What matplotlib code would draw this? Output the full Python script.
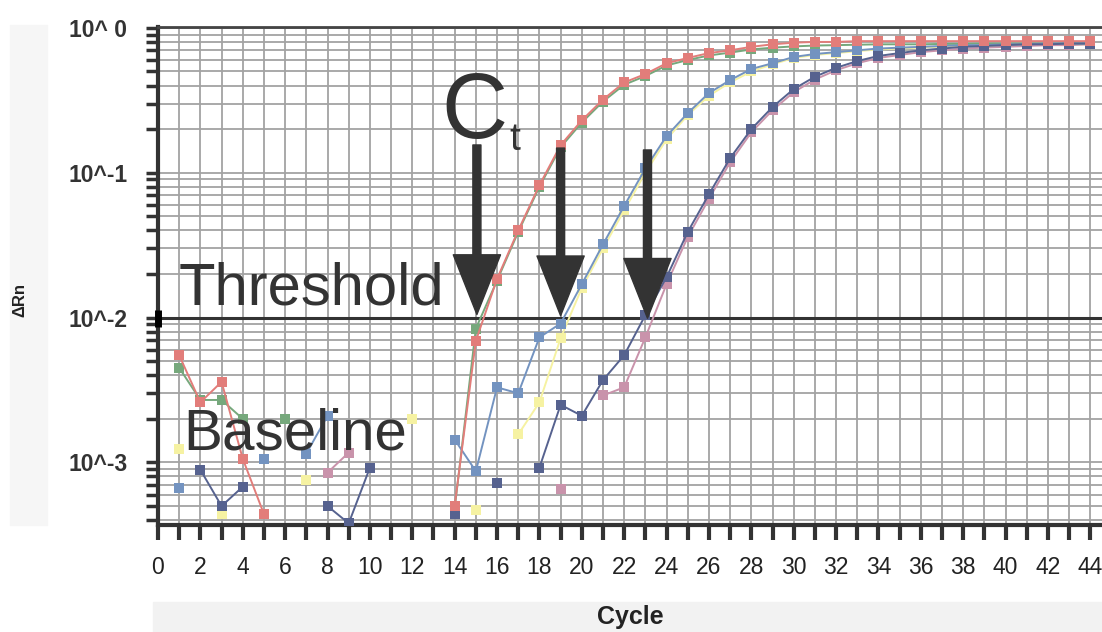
import numpy as np
import matplotlib.pyplot as plt
from matplotlib.patches import Rectangle

nan = np.nan
cycles = np.arange(1, 45)

# delta Rn per cycle (nan = no point drawn)
red = [0.0055, 0.0026, 0.0036, 0.00106, 0.00044, nan, nan, nan, nan, nan,
       nan, nan, nan, 0.0005, 0.0069, 0.0185, 0.040, 0.082, 0.155, 0.23,
       0.32, 0.42, 0.48, 0.57, 0.62, 0.67, 0.70, 0.74, 0.77, 0.79,
       0.80, 0.80, 0.81, 0.81, 0.81, 0.81, 0.81, 0.81, 0.81, 0.81,
       0.81, 0.81, 0.81, 0.81]
green = [0.0045, 0.0027, 0.0027, 0.0020, nan, 0.0020, nan, nan, nan, nan,
         nan, nan, nan, 0.00048, 0.0084, 0.018, 0.039, 0.080, 0.150, 0.222,
         0.31, 0.405, 0.465, 0.55, 0.60, 0.645, 0.675, 0.71, 0.73, 0.745,
         0.755, 0.76, 0.765, 0.77, 0.77, 0.77, 0.775, 0.775, 0.78, 0.78,
         0.78, 0.78, 0.78, 0.78]
blue = [0.00067, nan, nan, nan, 0.00105, nan, 0.00115, 0.0021, nan, nan,
        nan, nan, nan, 0.00144, 0.00087, 0.0033, 0.0030, 0.0073, 0.0091, 0.017,
        0.032, 0.059, 0.107, 0.179, 0.258, 0.355, 0.436, 0.52, 0.57, 0.63,
        0.66, 0.68, 0.70, 0.72, 0.73, 0.74, 0.75, 0.76, 0.76, 0.77,
        0.77, 0.78, 0.78, 0.78]
slate = [nan, 0.00089, 0.0005, 0.00068, nan, nan, nan, 0.0005, 0.00038, 0.00092,
         nan, nan, nan, 0.00044, nan, 0.00072, nan, 0.00092, 0.0025, 0.0021,
         0.0037, 0.0055, 0.0104, 0.019, 0.039, 0.071, 0.126, 0.20, 0.284, 0.378,
         0.46, 0.53, 0.59, 0.64, 0.67, 0.70, 0.72, 0.74, 0.75, 0.76,
         0.77, 0.77, 0.78, 0.78]
yellow = [0.00123, nan, 0.00044, nan, nan, nan, 0.00076, nan, nan, nan,
          nan, 0.0020, nan, nan, 0.00047, nan, 0.00156, 0.0026, 0.0072, 0.016,
          0.030, 0.055, 0.10, 0.17, 0.25, 0.34, 0.42, 0.50, 0.56, 0.62,
          0.65, 0.67, 0.69, 0.71, 0.72, 0.73, 0.74, 0.75, 0.75, 0.76,
          0.76, 0.77, 0.77, 0.77]
pink = [nan, nan, nan, nan, nan, nan, nan, 0.00085, 0.00117, nan,
        nan, nan, nan, nan, nan, nan, nan, nan, 0.00066, nan,
        0.0029, 0.0033, 0.0073, 0.017, 0.036, 0.066, 0.118, 0.19, 0.27, 0.36,
        0.44, 0.51, 0.57, 0.62, 0.65, 0.68, 0.70, 0.72, 0.73, 0.74,
        0.75, 0.76, 0.76, 0.77]

series = [
    (yellow, '#f6f2a2'),
    (pink, '#c993ab'),
    (green, '#76a87c'),
    (blue, '#7393c0'),
    (slate, '#56628f'),
    (red, '#e27d7a'),
]

threshold = 0.01
ct_cycles = [15.05, 19.0, 23.1]
ytick_vals = [1, 0.1, 0.01, 0.001]
ytick_labels = ['10^ 0', '10^-1', '10^-2', '10^-3']

fig = plt.figure(figsize=(11.02, 6.32), dpi=100)
fig.patches.append(Rectangle((10 / 1102, 1 - 525 / 632), 37 / 1102, 500 / 632,
                             transform=fig.transFigure, color='#f6f6f6', zorder=0))
fig.patches.append(Rectangle((153 / 1102, 0), 949 / 1102, 30 / 632,
                             transform=fig.transFigure, color='#f2f2f2', zorder=0))

ax = fig.add_axes([158 / 1102, 107 / 632, 944 / 1102, 498 / 632])
ax.set_facecolor('none')
ax.set_yscale('log')
ax.set_xlim(0, 44.55)
ax.set_ylim(3.7e-4, 1.014)

for vals, col in series:
    ax.plot(cycles, vals, color=col, lw=1.4, marker='s', ms=7.4,
            markeredgewidth=0, zorder=3)

ax.axhline(threshold, color='#333333', lw=2.2, zorder=2)
ax.plot([0, 0], [threshold * 0.86, threshold * 1.12], color='black', lw=5,
        clip_on=False, zorder=5, solid_capstyle='butt')

# grid
ax.set_xticks(range(0, 45))
ax.set_xticklabels([str(c) if c % 2 == 0 else '' for c in range(0, 45)])
ax.set_yticks(ytick_vals)
ax.set_yticklabels(ytick_labels)
ax.grid(True, which='both', color='#a3a3a3', lw=1.3, zorder=1)
ax.set_axisbelow(True)

ax.tick_params(axis='x', which='major', direction='out', length=11, width=3,
               color='#333333', pad=11, labelsize=16.5, labelcolor='#222222')
ax.tick_params(axis='y', which='both', direction='out', length=9, width=2.5,
               color='#333333', pad=13, labelsize=16.5, labelcolor='#333333')
for lab in ax.get_yticklabels():
    lab.set_fontweight('bold')
    lab.set_family('Liberation Sans')
for lab in ax.get_xticklabels():
    lab.set_family('Liberation Sans')

for side in ['left', 'bottom']:
    ax.spines[side].set_linewidth(3)
    ax.spines[side].set_color('#333333')
ax.spines['top'].set_linewidth(2)
ax.spines['top'].set_color('#444444')
ax.spines['right'].set_visible(False)

# annotations
txt = dict(family='Liberation Sans', color='#333333', zorder=6)
ax.text(0.95, 0.01224, 'Threshold', fontsize=43, va='baseline', **txt)
ax.text(1.18, 0.00122, 'Baseline', fontsize=42, va='baseline', **txt)
ax.text(13.35, 0.175, 'C', fontsize=66, va='baseline', **txt)
ax.text(16.6, 0.1436, 't', fontsize=28, va='baseline', **txt)

starts = [0.1555, 0.148, 0.1436]
tips = [0.0105, 0.0103, 0.0099]
for cx, y0, y1 in zip(ct_cycles, starts, tips):
    ax.annotate('', xy=(cx, y1), xytext=(cx, y0),
                arrowprops=dict(width=5.8, headwidth=34, headlength=43,
                                shrink=0, facecolor='#333333',
                                edgecolor='#333333'), zorder=6)

fig.text(20 / 1102, 1 - 300 / 632, 'ΔRn', rotation=90, fontsize=12,
         fontweight='bold', family='Liberation Sans', va='center', ha='center',
         color='#222222')
fig.text(630 / 1102, 1 - 605 / 632, 'Cycle', fontsize=18, fontweight='bold',
         family='Liberation Sans', va='top', ha='center', color='#222222')

fig.savefig('out.png', dpi=100)
